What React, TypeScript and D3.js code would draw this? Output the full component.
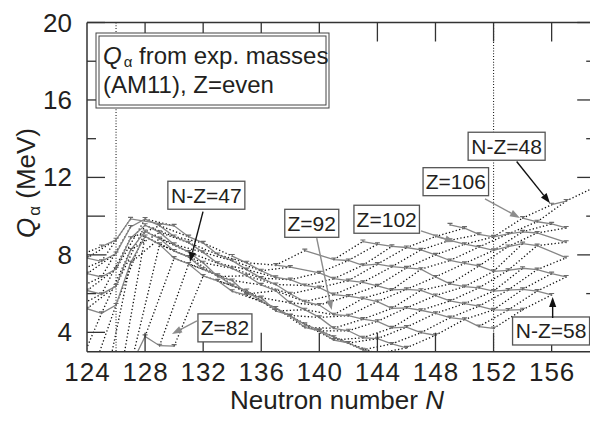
import React from 'react';
import * as d3 from 'd3';

// ---- data: Q_alpha (MeV) from experimental masses, even Z ----
const Z_VALUES = [82, 84, 86, 88, 90, 92, 94, 96, 98, 100, 102, 104, 106, 108, 110];
const FIRST_N = [122, 122, 122, 122, 122, 125, 134, 137, 139, 143, 148, 149, 154, 156, 159];
const Q_PB = [1.97, 1.47, 1.14, 0.39, 0.52, 2.25, 3.79, 3.31, 3.29];
const Q_PO = [5.33, 5.22, 5.22, 4.98, 5.41, 7.59, 8.95, 8.54, 7.83, 7.53, 6.91, 6.66, 6.12, 5.92];
const Q_RN = [6.26, 6.16, 6.16, 5.97, 6.39, 8.25, 9.21, 8.84, 8.2, 7.89, 7.26, 6.95, 6.41, 6.16, 5.59, 5.26, 4.84, 4.41, 4.1, 3.75, 3.45];
const Q_RA = [7.15, 7.04, 7.03, 6.86, 7.27, 8.86, 9.53, 9.16, 8.54, 8.14, 7.59, 6.88, 6.68, 5.98, 5.79, 5.1, 4.87, 4.25, 4.07, 3.6, 3.45, 3.1, 2.9];
const Q_TH = [7.96, 7.84, 7.83, 7.67, 8.07, 9.44, 9.85, 9.51, 8.95, 8.63, 8.13, 7.57, 7.3, 6.92, 6.45, 6.15, 5.52, 5.17, 4.77, 4.21, 4.08, 3.72, 3.67, 3.4, 3.2];
const Q_U = [8.43, 8.78, 9.86, null, null, 9.5, 8.94, 8.62, 8.02, 7.7, 7.24, 6.8, 6.47, 5.99, 5.58, 5.41, 4.91, 4.86, 4.68, 4.57, 4.23, 4.27, 3.98, 3.85];
const Q_PU = [7.94, 7.59, 7.18, 6.84, 6.72, 6.42, 6.31, 5.95, 5.87, 5.75, 5.59, 5.24, 5.26, 5.14, 4.98, 4.76, 4.67, 4.3, 4.2];
const Q_CM = [7.47, 7.37, null, 7.07, 6.77, 6.67, 6.58, 6.4, 6.19, 6.22, 6.17, 5.9, 5.62, 5.48, 5.35, 5.16, 5.15, 5.17];
const Q_CF = [8.22, null, 7.76, 7.71, 7.46, 7.52, 7.39, 7.33, 7.26, 6.86, 6.5, 6.36, 6.3, 6.13, 6.18, 6.22, 6.13, 5.93];
const Q_FM = [8.69, 8.55, 8.44, 8.38, 8.26, 8.0, 7.71, 7.56, 7.43, 7.15, 7.2, 7.31, 7.24, 7.03, 6.86];
const Q_NO = [8.95, 8.75, 8.55, 8.41, 8.23, 8.43, 8.58, 8.48, null, 7.85];
const Q_RF = [9.55, 9.38, 9.06, 8.93, 9.08, 9.19, 9.13, null, 8.65];
const Q_SG = [9.9, 9.71, 9.6, 9.39];
const Q_HS = [10.59, 10.78];
const Q_DS = [11.51];
const Q_ALL = [Q_PB, Q_PO, Q_RN, Q_RA, Q_TH, Q_U, Q_PU, Q_CM, Q_CF, Q_FM, Q_NO, Q_RF, Q_SG, Q_HS, Q_DS];

const X_TICKS = [124, 128, 132, 136, 140, 144, 148, 152, 156];
const Y_TICKS_LABELLED = [4, 8, 12, 16, 20];
const Y_TICKS_MINOR = [6, 10, 14, 18];
const REF_N = [126, 152];

// ---- annotations (in data units) ----
const LABEL_TEXT = ['N-Z=47', 'Z=82', 'Z=92', 'Z=102', 'Z=106', 'N-Z=48', 'N-Z=58'];
const LABEL_N = [132.22, 133.5, 139.48, 144.64, 149.4, 152.9, 155.96];
const LABEL_Q = [11.08, 4.23, 9.63, 9.84, 11.78, 13.61, 4.07];
const ARROW_FROM_N = [131.99, 131.57, 139.82, 147.0, 151.41, 153.59, 156.07];
const ARROW_FROM_Q = [10.23, 4.59, 8.87, 9.24, 10.89, 12.82, 4.74];
const ARROW_TO_N = [131.09, 129.85, 140.85, 149.34, 153.82, 155.89, 156.07];
const ARROW_TO_Q = [7.63, 3.91, 5.15, 8.67, 9.91, 10.67, 5.83];
const ARROW_DARK = [true, false, false, false, false, true, true];

const W = 590;
const H = 424;
const FONT = "'Liberation Sans', Arial, Helvetica, sans-serif";
const INK = '#231f20';
const GRAY = '#858585';

const x = d3.scaleLinear().domain([124, 159]).range([87, 87 + 35 * 14.52]);
const y = d3.scaleLinear().domain([3, 20]).range([351.7, 22.5]);

type Pt = { Z: number; N: number; Q: number };

function Arrow({ x1, y1, x2, y2, color }: { x1: number; y1: number; x2: number; y2: number; color: string }) {
  const a = Math.atan2(y2 - y1, x2 - x1);
  const L = 10;
  const hw = 3.6;
  const bx = x2 - L * Math.cos(a);
  const by = y2 - L * Math.sin(a);
  const px = -Math.sin(a) * hw;
  const py = Math.cos(a) * hw;
  return (
    <g>
      <line x1={x1} y1={y1} x2={bx} y2={by} stroke={color} strokeWidth={1.4} />
      <polygon points={`${x2},${y2} ${bx + px},${by + py} ${bx - px},${by - py}`} fill={color} />
    </g>
  );
}

export default function App() {
  const chains: Pt[][] = Z_VALUES.map((Z, i) =>
    Q_ALL[i]
      .map((q, j) => (q == null ? null : { Z, N: FIRST_N[i] + j, Q: q as number }))
      .filter((p): p is Pt => p !== null)
  );
  const all = chains.flat();
  const byKey = d3.group(all, (p) => p.N - p.Z);
  const dottedSegs: [Pt, Pt][] = [];
  byKey.forEach((pts) => {
    const s = [...pts].sort((a, b) => a.Z - b.Z);
    for (let i = 1; i < s.length; i++) {
      if (s[i].Z - s[i - 1].Z === 2) dottedSegs.push([s[i - 1], s[i]]);
    }
  });

  const line = d3
    .line<Pt>()
    .x((d) => x(d.N))
    .y((d) => y(d.Q));

  const [x0, x1] = x.range();
  const [yb, yt] = y.range();

  return (
    <svg
      width={W}
      height={H}
      style={{ position: 'absolute', left: 0, top: 0, background: '#fff' }}
      fontFamily={FONT}
    >
      <defs>
        <clipPath id="plotClip">
          <rect x={x0} y={yt} width={x1 - x0} height={yb - yt} />
        </clipPath>
      </defs>
      <rect width={W} height={H} fill="#fff" />

      <g clipPath="url(#plotClip)">
        {REF_N.map((n) => (
          <line key={n} x1={x(n)} x2={x(n)} y1={yt} y2={yb} stroke="#222" strokeWidth={1.1} strokeDasharray="1,1.8" />
        ))}
        {dottedSegs.map(([a, b], i) => (
          <line
            key={i}
            x1={x(a.N)}
            y1={y(a.Q)}
            x2={x(b.N)}
            y2={y(b.Q)}
            stroke="#111"
            strokeWidth={1.3}
            strokeDasharray="1.3,2.2"
          />
        ))}
        {chains.map((c, i) => (
          <path key={i} d={line(c) || ''} fill="none" stroke={GRAY} strokeWidth={1.3} />
        ))}
        {all.map((p, i) => (
          <g key={i} stroke="#6a6a6a" strokeWidth={1.1}>
            <line x1={x(p.N) - 2.5} x2={x(p.N) + 2.5} y1={y(p.Q) - 1.5} y2={y(p.Q) - 1.5} />
            <line x1={x(p.N)} x2={x(p.N)} y1={y(p.Q) - 1.5} y2={y(p.Q) + 1} />
          </g>
        ))}
      </g>

      {/* frame */}
      <g stroke="#333" strokeWidth={1.5} fill="none">
        <line x1={x0} x2={x0} y1={yt} y2={yb} />
        <line x1={x0} x2={x1} y1={yb} y2={yb} />
        <line x1={x0} x2={x1} y1={yt} y2={yt} />
        <line x1={x1} x2={x1} y1={yt} y2={yb} />
      </g>
      {/* ticks */}
      <g stroke="#333" strokeWidth={1.3}>
        {X_TICKS.filter((t) => t > 124).map((t) => (
          <g key={t}>
            <line x1={x(t)} x2={x(t)} y1={yb} y2={yb - 19} />
            <line x1={x(t)} x2={x(t)} y1={yt} y2={yt + 19} />
          </g>
        ))}
        {Y_TICKS_LABELLED.map((t) => (
          <g key={t}>
            <line x1={x0} x2={x0 + 18} y1={y(t)} y2={y(t)} />
            <line x1={x1} x2={x1 - 18} y1={y(t)} y2={y(t)} />
          </g>
        ))}
        {Y_TICKS_MINOR.map((t) => (
          <g key={t}>
            <line x1={x0} x2={x0 + (t === 10 ? 18 : 9)} y1={y(t)} y2={y(t)} />
            <line x1={x1} x2={x1 - 9} y1={y(t)} y2={y(t)} />
          </g>
        ))}
      </g>
      {/* tick labels */}
      <g fill={INK} fontSize={26}>
        {X_TICKS.map((t) => (
          <text key={t} x={x(t) + 0.5} y={381} textAnchor="middle" letterSpacing={1}>
            {t}
          </text>
        ))}
        {Y_TICKS_LABELLED.map((t) => (
          <text key={t} x={72} y={y(t) + 9} textAnchor="end">
            {t}
          </text>
        ))}
      </g>
      {/* axis titles */}
      <text x={337} y={409} textAnchor="middle" fontSize={26} fill={INK}>
        Neutron number <tspan fontStyle="italic">N</tspan>
      </text>
      <text transform="translate(35,183) rotate(-90)" textAnchor="middle" fontSize={26} fill={INK}>
        <tspan fontStyle="italic">Q</tspan>
        <tspan fontSize={17} dx={2} dy={5}>α</tspan>
        <tspan dy={-5}> (MeV)</tspan>
      </text>

      {/* legend box */}
      <rect x={96} y={33} width={233} height={75} fill="#fff" stroke="#444" strokeWidth={1} />
      <rect x={99} y={36} width={227} height={69} fill="none" stroke="#444" strokeWidth={1} />
      <text x={103} y={64} fontSize={24} fill={INK}>
        <tspan fontStyle="italic">Q</tspan>
        <tspan fontSize={15} dx={2} dy={2.5}>α</tspan>
        <tspan dy={-2.5}> from exp. masses</tspan>
      </text>
      <text x={103} y={92.5} fontSize={24} fill={INK}>
        (AM11), Z=even
      </text>

      {/* annotations */}
      {LABEL_TEXT.map((t, i) => {
        const cx = x(LABEL_N[i]);
        const cy = y(LABEL_Q[i]);
        const bw = t.length * 11.5 + 8;
        const bh = 28;
        return (
          <g key={t}>
            <rect x={cx - bw / 2} y={cy - bh / 2} width={bw} height={bh} fill="#fff" stroke="#555" strokeWidth={1.3} />
            <text x={cx} y={cy + 7.5} textAnchor="middle" fontSize={21} fill={INK}>
              {t}
            </text>
          </g>
        );
      })}
      {LABEL_TEXT.map((t, i) => (
        <Arrow
          key={'a' + t}
          x1={x(ARROW_FROM_N[i])}
          y1={y(ARROW_FROM_Q[i])}
          x2={x(ARROW_TO_N[i])}
          y2={y(ARROW_TO_Q[i])}
          color={ARROW_DARK[i] ? '#111' : '#8c8c8c'}
        />
      ))}
    </svg>
  );
}
